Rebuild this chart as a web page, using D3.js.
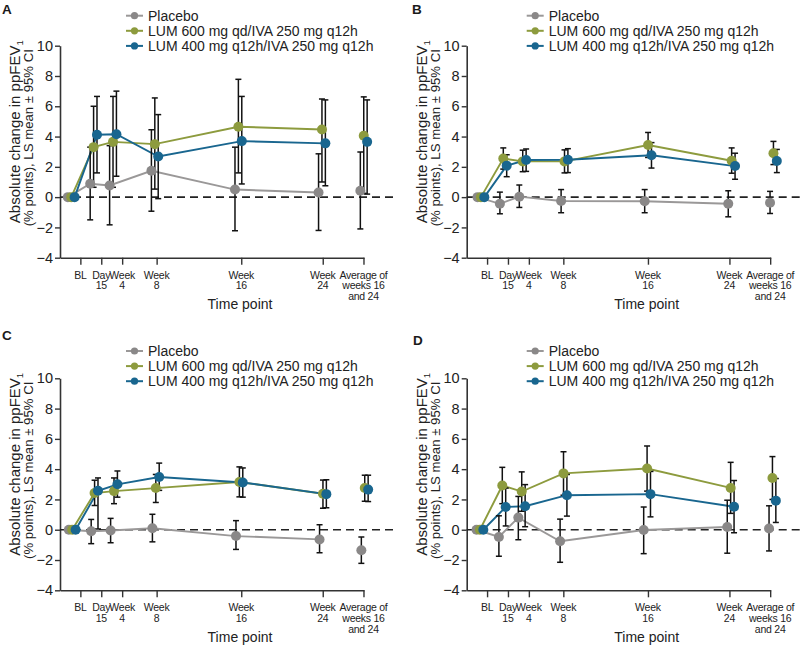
<!DOCTYPE html>
<html><head><meta charset="utf-8">
<script src="https://cdn.jsdelivr.net/npm/d3@7"></script>
<style>
html,body{margin:0;padding:0;background:#fff;}
svg{display:block;font-family:"Liberation Sans",Arial,Helvetica,sans-serif;}
</style></head>
<body>
<svg id="chart" width="800" height="649"></svg>
<script>
// ---- categories / ticks ----
const timeWeeks = [0, 2.14, 4, 8, 16, 24, 28];          // last = average of weeks 16 and 24
const tickWeeks = [1.2, 3.2, 5.2, 8.5, 16.6, 24.4, 28.3];
const timeLabels = [["BL"], ["Day", "15"], ["Week", "4"], ["Week", "8"], ["Week", "16"], ["Week", "24"], ["Average of", "weeks 16", "and 24"]];
const yTicks = [-4, -2, 0, 2, 4, 6, 8, 10];
const seriesNames = ["Placebo", "LUM 600 mg qd/IVA 250 mg q12h", "LUM 400 mg q12h/IVA 250 mg q12h"];
const panelLetters = ["A", "B", "C", "D"];

// ---- Panel A ----
const placeboA    = [0, 0.88, 0.77, 1.74, 0.50, 0.31, 0.42];
const placeboA_lo = [null, -1.50, -1.83, -0.93, -2.22, -2.20, -2.10];
const placeboA_hi = [null, 3.30, 3.40, 4.45, 3.30, 2.86, 2.98];
const lum600A     = [0, 3.30, 3.65, 3.50, 4.65, 4.47, 4.05];
const lum600A_lo  = [null, 0.65, 0.65, 0.53, 1.60, 1.00, 0.25];
const lum600A_hi  = [null, 6.00, 6.65, 6.55, 7.78, 6.48, 6.62];
const lum400A     = [0, 4.12, 4.15, 2.68, 3.70, 3.55, 3.65];
const lum400A_lo  = [null, 1.60, 1.38, -0.10, 0.87, 0.75, 0.20];
const lum400A_hi  = [null, 6.65, 7.00, 5.45, 6.65, 6.42, 6.42];

// ---- Panel B ----
const placeboB    = [0, -0.44, 0.03, -0.26, -0.27, -0.44, -0.37];
const placeboB_lo = [null, -1.10, -0.68, -1.03, -1.03, -1.30, -1.08];
const placeboB_hi = [null, 0.33, 0.80, 0.50, 0.50, 0.42, 0.38];
const lum600B     = [0, 2.55, 2.36, 2.36, 3.44, 2.40, 2.90];
const lum600B_lo  = [null, 1.85, 1.68, 1.60, 2.62, 1.58, 2.15];
const lum600B_hi  = [null, 3.25, 3.10, 3.12, 4.27, 3.25, 3.68];
const lum400B     = [0, 2.08, 2.45, 2.47, 2.77, 2.05, 2.38];
const lum400B_lo  = [null, 1.35, 1.70, 1.62, 1.92, 1.18, 1.62];
const lum400B_hi  = [null, 2.80, 3.18, 3.20, 3.60, 2.90, 3.15];

// ---- Panel C ----
const placeboC    = [0, -0.10, -0.05, 0.10, -0.42, -0.64, -1.36];
const placeboC_lo = [null, -0.92, -0.86, -0.80, -1.30, -1.52, -2.22];
const placeboC_hi = [null, 0.68, 0.75, 1.02, 0.60, 0.33, -0.48];
const lum600C     = [0, 2.42, 2.55, 2.75, 3.15, 2.38, 2.75];
const lum600C_lo  = [null, 1.60, 1.72, 1.80, 2.17, 1.42, 1.88];
const lum600C_hi  = [null, 3.27, 3.42, 3.65, 4.15, 3.28, 3.60];
const lum400C     = [0, 2.57, 3.00, 3.48, 3.12, 2.35, 2.65];
const lum400C_lo  = [null, 0.05, 2.15, 2.60, 2.15, 1.45, 1.86];
const lum400C_hi  = [null, 3.42, 3.88, 4.40, 4.08, 3.30, 3.60];

// ---- Panel D ----
const placeboD    = [0, -0.48, 0.80, -0.76, -0.02, 0.18, 0.08];
const placeboD_lo = [null, -1.75, -0.66, -2.15, -1.58, -1.55, -1.40];
const placeboD_hi = [null, 0.92, 2.20, 0.70, 1.50, 1.95, 1.58];
const lum600D     = [0, 2.92, 2.52, 3.72, 4.04, 2.76, 3.42];
const lum600D_lo  = [null, 1.72, 1.22, 2.28, 2.55, 1.08, 2.00];
const lum600D_hi  = [null, 4.12, 3.82, 5.15, 5.53, 4.45, 4.83];
const lum400D     = [0, 1.50, 1.55, 2.28, 2.35, 1.52, 1.92];
const lum400D_lo  = [null, 0.25, 0.20, 0.90, 0.85, -0.20, 0.48];
const lum400D_hi  = [null, 2.75, 2.98, 3.65, 3.85, 3.25, 3.38];

// ---- assemble ----
const panelData = [
  [[placeboA, placeboA_lo, placeboA_hi], [lum600A, lum600A_lo, lum600A_hi], [lum400A, lum400A_lo, lum400A_hi]],
  [[placeboB, placeboB_lo, placeboB_hi], [lum600B, lum600B_lo, lum600B_hi], [lum400B, lum400B_lo, lum400B_hi]],
  [[placeboC, placeboC_lo, placeboC_hi], [lum600C, lum600C_lo, lum600C_hi], [lum400C, lum400C_lo, lum400C_hi]],
  [[placeboD, placeboD_lo, placeboD_hi], [lum600D, lum600D_lo, lum600D_hi], [lum400D, lum400D_lo, lum400D_hi]]
];

// ---- styling / layout ----
const colors = ["#8a8888", "#8d9b3e", "#19668f"];
const lineColors = ["#9a9898", "#8d9b3e", "#19668f"];
const dodge = [0, 3.4, 6.8];
const layout = [
  {ox: 60,    oy: 45.7,  lx: 126,   ly: 15.7,  letX: 2,   letY: 14,  shift: 0},
  {ox: 466.7, oy: 45.7,  lx: 526.7, ly: 15.7,  letX: 412, letY: 14,  shift: 3},
  {ox: 60,    oy: 378.3, lx: 126,   ly: 351,   letX: 2,   letY: 340, shift: 1},
  {ox: 466.7, oy: 378.3, lx: 526.7, ly: 351,   letX: 413, letY: 345, shift: 2}
];
const W = 304, H = 212;

const svg = d3.select("#chart");

layout.forEach((L, pi) => {
  const g = svg.append("g");
  const x = d3.scaleLinear().domain([-0.75, 28.35]).range([L.ox, L.ox + W]);
  const y = d3.scaleLinear().domain([-4, 10]).range([L.oy + H, L.oy]);

  // panel letter
  g.append("text").attr("x", L.letX).attr("y", L.letY)
    .attr("font-size", 13.5).attr("font-weight", "bold").attr("fill", "#1a1a1a")
    .text(panelLetters[pi]);

  // y axis
  const ya = g.append("g").attr("transform", `translate(${L.ox},0)`)
    .call(d3.axisLeft(y).tickValues(yTicks).tickSize(5).tickSizeOuter(0).tickPadding(2).tickFormat(d3.format("d")));
  ya.select(".domain").attr("stroke", "#333").attr("stroke-width", 1.6);
  ya.selectAll(".tick line").attr("stroke", "#333").attr("stroke-width", 1.4);
  ya.selectAll(".tick text").attr("font-size", 14.5).attr("fill", "#222").attr("font-family", null);

  // x axis
  const xa = g.append("g").attr("transform", `translate(0,${y(-4)})`)
    .call(d3.axisBottom(x).tickValues(tickWeeks).tickSize(7).tickSizeOuter(0).tickFormat(""));
  xa.select(".domain").attr("stroke", "#333").attr("stroke-width", 1.6);
  xa.selectAll(".tick line").attr("stroke", "#333").attr("stroke-width", 1.4);

  // multi-line x tick labels
  tickWeeks.forEach((t, i) => {
    const tx = g.append("text").attr("text-anchor", "middle")
      .attr("font-size", 10.5).attr("letter-spacing", -0.25).attr("fill", "#222");
    timeLabels[i].forEach((s, k) => {
      tx.append("tspan").attr("x", x(t)).attr("y", y(-4) + 21 + k * 10.6).text(s);
    });
  });

  // x title
  g.append("text").attr("x", L.ox + 180).attr("y", y(-4) + 51.5)
    .attr("text-anchor", "middle").attr("font-size", 14).attr("fill", "#222").text("Time point");

  // y title
  const cy = L.oy + 86;
  const yt1 = g.append("text").attr("transform", `translate(${L.ox - 40},${cy}) rotate(-90)`)
    .attr("text-anchor", "middle").attr("font-size", 15).attr("fill", "#222");
  yt1.append("tspan").text("Absolute change in ppFEV");
  yt1.append("tspan").attr("font-size", 9.5).attr("dy", 3).text("1");
  g.append("text").attr("transform", `translate(${L.ox - 27},${cy + 6}) rotate(-90)`)
    .attr("text-anchor", "middle").attr("font-size", 13.2).attr("fill", "#222")
    .text("(% points), LS mean \u00b1 95% CI");

  // zero dashed line
  g.append("line").attr("x1", L.ox).attr("x2", L.ox + 333)
    .attr("y1", y(0)).attr("y2", y(0))
    .attr("stroke", "#222").attr("stroke-width", 1.6).attr("stroke-dasharray", "8,5");

  const px = (si, i) => x(timeWeeks[i]) + L.shift + dodge[si];
  const series = panelData[pi];

  // lines (BL..week 24, average not connected)
  series.forEach((s, si) => {
    const pts = s[0].slice(0, 6).map((v, i) => [px(si, i), y(v)]);
    g.append("path").attr("d", d3.line()(pts))
      .attr("fill", "none").attr("stroke", lineColors[si]).attr("stroke-width", 1.9);
  });

  // error bars
  series.forEach((s, si) => {
    s[0].forEach((v, i) => {
      if (s[1][i] == null) return;
      const cx = px(si, i), y1 = y(s[1][i]), y2 = y(s[2][i]);
      const eb = g.append("g").attr("stroke", "#111").attr("stroke-width", 1.5);
      eb.append("line").attr("x1", cx).attr("x2", cx).attr("y1", y1).attr("y2", y2);
      eb.append("line").attr("x1", cx - 3).attr("x2", cx + 3).attr("y1", y1).attr("y2", y1);
      eb.append("line").attr("x1", cx - 3).attr("x2", cx + 3).attr("y1", y2).attr("y2", y2);
    });
  });

  // markers
  series.forEach((s, si) => {
    g.append("g").selectAll("circle").data(s[0]).join("circle")
      .attr("cx", (v, i) => px(si, i)).attr("cy", v => y(v)).attr("r", 5)
      .attr("fill", colors[si]);
  });

  // legend
  seriesNames.forEach((name, si) => {
    const ly = L.ly + si * 15.1;
    g.append("line").attr("x1", L.lx).attr("x2", L.lx + 17).attr("y1", ly).attr("y2", ly)
      .attr("stroke", lineColors[si]).attr("stroke-width", 2);
    g.append("circle").attr("cx", L.lx + 8.5).attr("cy", ly).attr("r", 3.6).attr("fill", colors[si]);
    g.append("text").attr("x", L.lx + 22).attr("y", ly + 5).attr("font-size", 14)
      .attr("fill", "#222").text(name);
  });
});
</script>
</body></html>
